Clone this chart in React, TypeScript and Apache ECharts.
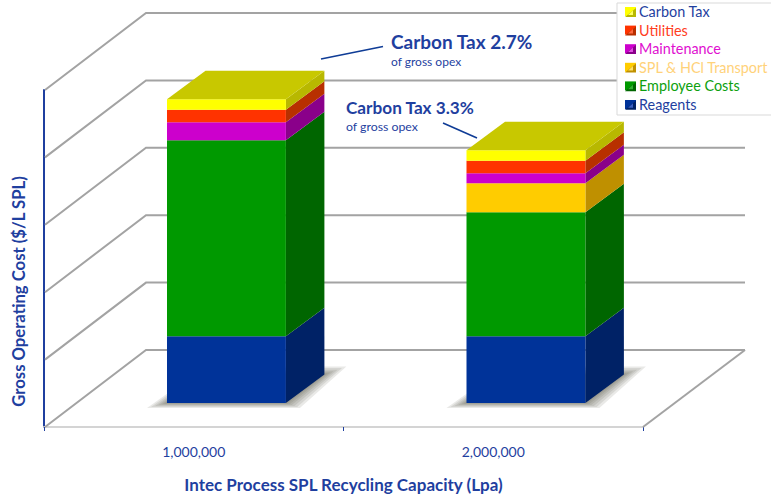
import React, { useEffect, useRef } from "react";
import * as echarts from "echarts";

const capacities = ["1,000,000", "2,000,000"];

// Cost components, bottom of the stack first. Values are in y-axis grid units.
const costNames = ["Reagents", "Employee Costs", "SPL & HCl Transport", "Maintenance", "Utilities", "Carbon Tax"];
const reagents = [0.99, 0.99];
const employeeCosts = [2.91, 1.84];
const transport = [0, 0.43];
const maintenance = [0.267, 0.148];
const utilities = [0.185, 0.187];
const carbonTax = [0.121, 0.123];
const costValues = [reagents, employeeCosts, transport, maintenance, utilities, carbonTax];

const frontColors = ["#003399", "#009900", "#ffcc00", "#cc00cc", "#ff3300", "#ffff00"];
const sideColors = ["#002266", "#006600", "#bf9000", "#8a008a", "#b83000", "#b8b800"];
const legendTextColors = ["#1f3f9f", "#0e9f0e", "#ffd27a", "#e010d0", "#ff3d1f", "#1f3f9f"];
const legendLightColors = ["#3a5fc0", "#33b033", "#ffe066", "#e050e0", "#ff6a40", "#ffff60"];

const gridLevels = [0, 1, 2, 3, 4, 5];

const BLUE = "#1f3f9f";
const FONT = "Lato";
const WIDTH = 771;
const HEIGHT = 500;

// Oblique projection: full floor depth, bar inset from the front edge, and bar depth.
const FLOOR_DX = 102;
const FLOOR_DY = -77;
const INSET_DX = 32.7;
const INSET_DY = -24;
const BAR_DX = 38.5;
const BAR_DY = -28.5;
const BAR_WIDTH_RATIO = 0.397;
const BEVEL = 2.2;

const wallItem = (_params: any, api: any) => {
  const level = api.value(0);
  const [x0, y0] = api.coord([0, level]);
  const x0Front = x0 - api.size([1, 0])[0] / 2;
  const xBack = x0Front + FLOOR_DX;
  const yBack = y0 + FLOOR_DY;
  const xRight = xBack + api.size([1, 0])[0] * 2;
  const style = { stroke: "#a3a3a3", lineWidth: 2, fill: "none" };
  const children: any[] = [
    {
      type: "polyline",
      shape: { points: [[x0Front + 1, y0], [xBack, yBack], [xRight, yBack]] },
      style,
    },
  ];
  if (level === 0) {
    children.push({
      type: "line",
      shape: { x1: xRight - FLOOR_DX, y1: y0, x2: xRight, y2: yBack },
      style,
    });
  }
  return { type: "group", children };
};

// Soft floor shadow built from stacked translucent outlines, widest and faintest first.
const shadowSpreads = [1, 0.8, 0.6, 0.42, 0.26, 0.12];

const shadowItem = (_params: any, api: any) => {
  const [cx, y0] = api.coord([api.value(0), 0]);
  const w = api.size([1, 0])[0] * BAR_WIDTH_RATIO;
  const x = cx + INSET_DX - w / 2;
  const y = y0 + INSET_DY;
  return {
    type: "group",
    children: shadowSpreads.map((t) => ({
      type: "polygon",
      shape: {
        points: [
          [x - 20 * t, y + 5 * t],
          [x + w + 14 * t, y + 5 * t],
          [x + w + BAR_DX + 22 * t, y + BAR_DY - 8 * t],
          [x + BAR_DX, y + BAR_DY - 8 * t],
        ],
      },
      style: { fill: "rgba(70,70,60,0.12)" },
    })),
  };
};

const segmentItem = (seriesIndex: number) => (_params: any, api: any) => {
  const cat = api.value(0);
  const from = api.value(1);
  const to = api.value(2);
  if (to <= from) return null;
  const [cx, yFrom] = api.coord([cat, from]);
  const [, yTo] = api.coord([cat, to]);
  const w = api.size([1, 0])[0] * BAR_WIDTH_RATIO;
  const left = cx + INSET_DX - w / 2;
  const right = left + w;
  const bottom = yFrom + INSET_DY;
  const isTop = seriesIndex === costNames.length - 1;
  const top = yTo + INSET_DY - (isTop ? BEVEL : 0);
  const children: any[] = [
    {
      type: "polygon",
      shape: { points: [[right, bottom], [right + BAR_DX, bottom + BAR_DY], [right + BAR_DX, top + BAR_DY], [right, top]] },
      style: { fill: sideColors[seriesIndex] },
    },
    {
      type: "rect",
      shape: { x: left, y: top, width: w, height: bottom - top },
      style: { fill: frontColors[seriesIndex] },
    },
  ];
  if (isTop) {
    children.push({
      type: "polygon",
      shape: { points: [[left, top], [left + BAR_DX, top + BAR_DY], [right + BAR_DX, top + BAR_DY], [right, top]] },
      style: { fill: "#c8c800" },
    });
  }
  return { type: "group", children };
};

// Bevelled highlight on each legend swatch, top row first.
const legendRowY = [12.5, 31, 49.5, 68, 86.8, 105.3];
const swatchBevels = legendRowY.map((y, row) => {
  const i = costNames.length - 1 - row;
  return [
    {
      type: "polygon",
      z: 20,
      shape: { points: [[625, y + 4.5], [636, y + 4.5], [636, y - 4.5]] },
      style: { fill: sideColors[i] },
    },
    {
      type: "polygon",
      z: 21,
      shape: { points: [[628, y + 2.5], [633, y + 2.5], [633, y - 2]] },
      style: { fill: legendLightColors[i] },
    },
  ];
}).flat();

const calloutText = (text: string, x: number, y: number, size: number, weight: string) => ({
  type: "text",
  z: 10,
  style: { text, x, y, fill: BLUE, font: `${weight} ${size}px ${FONT}`, verticalAlign: "middle" },
});

const calloutLine = (x1: number, y1: number, x2: number, y2: number) => ({
  type: "line",
  z: 10,
  shape: { x1, y1, x2, y2 },
  style: { stroke: "#0f3c96", lineWidth: 1.6 },
});

export default function App() {
  const ref = useRef<HTMLDivElement>(null);

  useEffect(() => {
    const chart = echarts.init(ref.current!, undefined, { renderer: "svg" });

    const costSeries = costNames.map((name, s) => ({
      name,
      type: "custom" as const,
      z: 3,
      itemStyle: { color: frontColors[s] },
      renderItem: segmentItem(s),
      encode: { x: 0, y: [1, 2] },
      data: capacities.map((_c, cat) => {
        const start = costValues.slice(0, s).reduce((sum, v) => sum + v[cat], 0);
        return [cat, start, start + costValues[s][cat]];
      }),
    }));

    chart.setOption({
      animation: false,
      backgroundColor: "#ffffff",
      grid: { left: 44, right: 128, top: 90, bottom: 73, containLabel: false, outerBoundsMode: "none" },
      xAxis: {
        type: "category",
        data: capacities,
        boundaryGap: true,
        name: "Intec Process SPL Recycling Capacity (Lpa)",
        nameLocation: "middle",
        nameGap: 49,
        nameTextStyle: { color: BLUE, fontFamily: FONT, fontWeight: "bold", fontSize: 17 },
        axisLine: { lineStyle: { color: "#d4d4d4", width: 2 } },
        axisTick: { show: true, alignWithLabel: false, length: 4, lineStyle: { color: BLUE, width: 1 } },
        axisLabel: { color: BLUE, fontFamily: FONT, fontSize: 14, margin: 17 },
      },
      yAxis: {
        type: "value",
        min: 0,
        max: 5,
        interval: 1,
        name: "Gross Operating Cost ($/L SPL)",
        nameLocation: "middle",
        nameGap: 17,
        nameTextStyle: { color: BLUE, fontFamily: FONT, fontWeight: "bold", fontSize: 16.7, padding: [0, 66, 0, 0] },
        axisLine: { show: true, onZero: false, lineStyle: { color: BLUE, width: 2 } },
        axisTick: { show: false },
        axisLabel: { show: false },
        splitLine: { show: false },
      },
      legend: {
        orient: "vertical",
        left: 617,
        top: 3,
        padding: [1, 12, 3, 8],
        backgroundColor: "#ffffff",
        borderColor: "#d9d9d9",
        borderWidth: 1,
        itemWidth: 11,
        itemHeight: 9,
        itemGap: 3.6,
        selectedMode: false,
        z: 9,
        textStyle: { fontFamily: FONT, fontSize: 14.4, lineHeight: 15, padding: [0, 0, 0, -2] },
        data: costNames
          .map((name, i) => ({
            name,
            icon: "rect",
            itemStyle: { color: frontColors[i] },
            textStyle: { color: legendTextColors[i] },
          }))
          .reverse(),
      },
      graphic: [
        ...swatchBevels,
        calloutLine(321, 59, 383, 46.5),
        calloutLine(443, 123, 477, 138),
        calloutText("Carbon Tax 2.7%", 391, 41, 19, "bold"),
        calloutText("of gross opex", 391, 61, 12, "normal"),
        calloutText("Carbon Tax 3.3%", 346, 107, 17.2, "bold"),
        calloutText("of gross opex", 346, 126, 12.3, "normal"),
      ],
      series: [
        {
          name: "wall",
          type: "custom",
          z: 1,
          renderItem: wallItem,
          encode: { y: 0 },
          data: gridLevels.map((v) => [v]),
        },
        {
          name: "shadow",
          type: "custom",
          z: 2,
          renderItem: shadowItem,
          encode: { x: 0 },
          data: capacities.map((_c, i) => [i]),
        },
        ...costSeries,
      ],
    });

    return () => chart.dispose();
  }, []);

  return <div ref={ref} style={{ position: "absolute", left: 0, top: 0, width: WIDTH, height: HEIGHT }} />;
}
